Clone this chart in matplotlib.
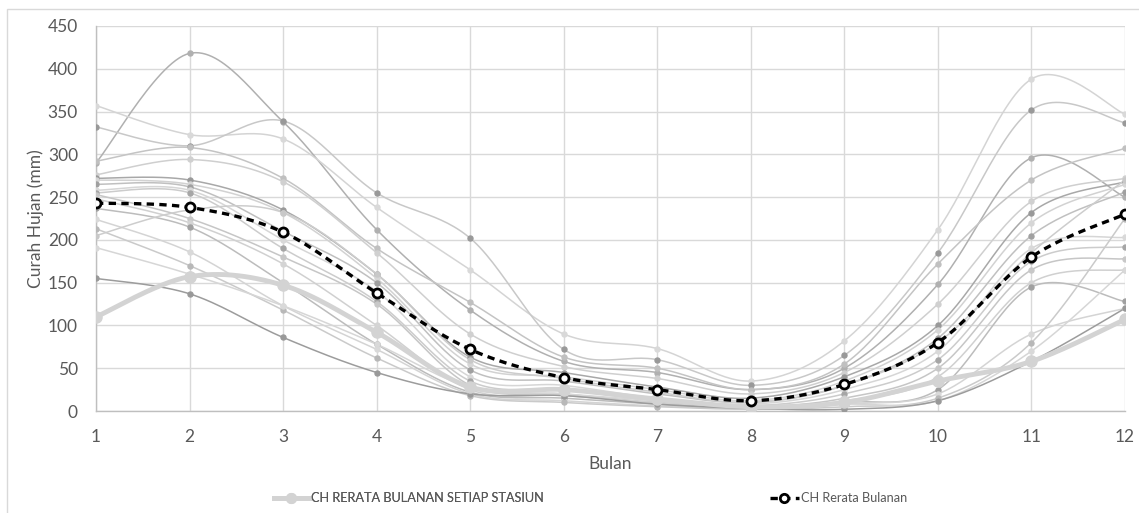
import numpy as np
import matplotlib
matplotlib.use("Agg")
import matplotlib.pyplot as plt
from matplotlib.lines import Line2D
from matplotlib.patches import Rectangle

months = list(range(1, 13))
month_labels = [str(m) for m in months]

# Individual station monthly rainfall (mm)
st01 = [290, 418, 338, 212, 118, 58, 45, 25, 50, 148, 296, 250]
st02 = [357, 323, 318, 238, 165, 90, 73, 35, 82, 212, 388, 347]
st03 = [332, 310, 339, 255, 202, 72, 60, 30, 65, 185, 352, 337]
st04 = [292, 308, 272, 190, 127, 63, 50, 25, 55, 172, 270, 307]
st05 = [276, 294, 268, 185, 90, 52, 38, 20, 45, 125, 245, 272]
st06 = [272, 270, 235, 160, 63, 45, 28, 15, 40, 100, 232, 268]
st07 = [270, 265, 232, 155, 55, 40, 25, 12, 35, 95, 220, 265]
st08 = [265, 262, 210, 150, 48, 35, 20, 10, 30, 85, 205, 256]
st09 = [258, 258, 200, 140, 40, 30, 15, 8, 25, 70, 190, 203]
st10 = [255, 255, 190, 128, 35, 25, 12, 6, 20, 60, 175, 192]
st11 = [253, 225, 180, 125, 30, 20, 10, 5, 15, 50, 165, 178]
st12 = [248, 220, 172, 100, 25, 18, 10, 4, 12, 40, 150, 165]
st13 = [237, 215, 150, 78, 22, 15, 8, 3, 10, 25, 145, 128]
st14 = [224, 186, 123, 72, 20, 12, 6, 3, 8, 20, 90, 120]
st15 = [213, 170, 118, 62, 18, 10, 5, 2, 5, 15, 80, 225]
st16 = [191, 160, 123, 78, 28, 20, 12, 5, 8, 12, 70, 165]
st17 = [155, 137, 86, 45, 20, 18, 8, 3, 2, 12, 58, 120]
st18 = [205, 235, 232, 160, 60, 38, 22, 10, 30, 80, 185, 270]

stations = [st01, st02, st03, st04, st05, st06, st07, st08, st09,
            st10, st11, st12, st13, st14, st15, st16, st17, st18]
station_line_colors = ['#b0b0b0', '#d4d4d4', '#c8c8c8', '#c4c4c4', '#cfcfcf',
                       '#a8a8a8', '#d2d2d2', '#c0c0c0', '#d6d6d6', '#cccccc',
                       '#c6c6c6', '#d0d0d0', '#bcbcbc', '#d4d4d4', '#cacaca',
                       '#d6d6d6', '#9c9c9c', '#cdcdcd']
station_marker_colors = ['#b0b0b0', '#d9d9d9', '#999999', '#c0c0c0', '#d0d0d0',
                         '#999999', '#d6d6d6', '#a0a0a0', '#d9d9d9', '#a6a6a6',
                         '#c8c8c8', '#d4d4d4', '#a0a0a0', '#d9d9d9', '#b8b8b8',
                         '#d9d9d9', '#999999', '#c8c8c8']

# Thick series: CH rerata bulanan setiap stasiun
thick_series = [110, 157, 147, 92, 28, 25, 14, 5, 10, 35, 58, 107]
# Dashed black series: CH rerata bulanan
mean_series = [243, 238, 209, 138, 72, 39, 25, 12, 31, 80, 180, 230]


def smooth(x, y, n=30):
    x = np.asarray(x, float)
    y = np.asarray(y, float)
    px = np.concatenate([[x[0]], x, [x[-1]]])
    py = np.concatenate([[y[0]], y, [y[-1]]])
    xs, ys = [], []
    t = np.linspace(0, 1, n)
    for i in range(1, len(px) - 2):
        p0x, p1x, p2x, p3x = px[i - 1], px[i], px[i + 1], px[i + 2]
        p0y, p1y, p2y, p3y = py[i - 1], py[i], py[i + 1], py[i + 2]
        c1x = p1x + (p2x - p0x) / 6.0
        c1y = p1y + (p2y - p0y) / 6.0
        c2x = p2x - (p3x - p1x) / 6.0
        c2y = p2y - (p3y - p1y) / 6.0
        bx = (1 - t) ** 3 * p1x + 3 * (1 - t) ** 2 * t * c1x + 3 * (1 - t) * t ** 2 * c2x + t ** 3 * p2x
        by = (1 - t) ** 3 * p1y + 3 * (1 - t) ** 2 * t * c1y + 3 * (1 - t) * t ** 2 * c2y + t ** 3 * p2y
        xs.append(bx if i == 1 else bx[1:])
        ys.append(by if i == 1 else by[1:])
    return np.concatenate(xs), np.concatenate(ys)


plt.rcParams['font.family'] = ['Lato', 'DejaVu Sans']
W, H = 1139, 513
fig = plt.figure(figsize=(W / 100, H / 100), dpi=100)
fig.patch.set_facecolor('white')

# outer chart border (top and left visible)
fig.add_artist(Rectangle((7 / W, -0.05), 1.2, 1 - 9 / H + 0.05, transform=fig.transFigure,
                         fill=False, edgecolor='#d9d9d9', linewidth=1.0))

ax = fig.add_axes([96 / W, 1 - 411 / H, (1125 - 96) / W, (411 - 26) / H])

for s, lc, mc in zip(stations, station_line_colors, station_marker_colors):
    sx, sy = smooth(months, s)
    ax.plot(sx, sy, color=lc, linewidth=1.1, zorder=2)
    ax.plot(months, s, linestyle='none', marker='o', markersize=3.6,
            color=mc, zorder=3)

tx, ty = smooth(months, thick_series)
ax.plot(tx, ty, color='#d3d3d3', linewidth=3.5, zorder=4, solid_capstyle='round')
ax.plot(months, thick_series, linestyle='none', marker='o', markersize=8,
        color='#d3d3d3', zorder=4)

mx, my = smooth(months, mean_series)
ax.plot(mx, my, color='black', linewidth=2.4, linestyle=(0, (2.2, 1.6)), zorder=6)
ax.plot(months, mean_series, linestyle='none', marker='o', markersize=6.5,
        markerfacecolor='white', markeredgecolor='black', markeredgewidth=2.0, zorder=7)

ax.set_xlim(1, 12)
ax.set_ylim(0, 450)
ax.set_xticks(months)
ax.set_xticklabels(month_labels)
ax.set_yticks(np.arange(0, 451, 50))
ax.grid(True, color='#d9d9d9', linewidth=1.0, zorder=0)
ax.set_axisbelow(True)
for side in ['top', 'right']:
    ax.spines[side].set_visible(False)
ax.spines['left'].set_color('#bfbfbf')
ax.spines['bottom'].set_color('#bfbfbf')
ax.spines['left'].set_linewidth(1.0)
ax.spines['bottom'].set_linewidth(1.0)
ax.tick_params(axis='both', length=0, labelsize=12.5, labelcolor='#595959')
ax.tick_params(axis='x', pad=13)
ax.tick_params(axis='y', pad=13)

ax.set_xlabel('Bulan', fontsize=12.5, color='#595959', labelpad=8)
ax.set_ylabel('Curah Hujan (mm)', fontsize=12.5, color='#595959', labelpad=3)

h1 = Line2D([], [], color='#d3d3d3', linewidth=3.5, marker='o', markersize=7)
h2 = Line2D([], [], color='black', linewidth=2.4, linestyle=(0, (2.2, 1.6)),
            marker='o', markersize=6, markerfacecolor='white', markeredgecolor='black',
            markeredgewidth=2.0)
leg1 = fig.legend([h1], ['CH RERATA BULANAN SETIAP STASIUN'], loc='center left',
                  bbox_to_anchor=(262 / W, 1 - 498 / H), frameon=False, fontsize=9.2,
                  handlelength=2.8, handletextpad=0.1, labelcolor='#595959')
leg2 = fig.legend([h2], ['CH Rerata Bulanan'], loc='center left',
                  bbox_to_anchor=(758 / W, 1 - 498 / H), frameon=False, fontsize=9.2,
                  handlelength=2.3, handletextpad=0.2, labelcolor='#595959')
fig.add_artist(leg1)

fig.savefig('out.png', dpi=100, facecolor='white')
